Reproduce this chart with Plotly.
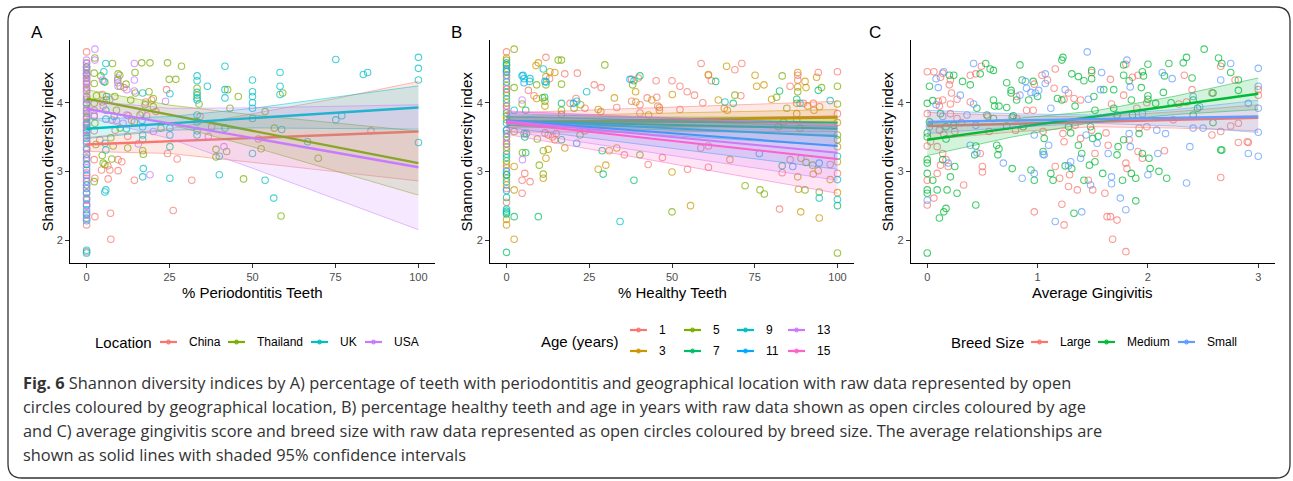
import plotly.graph_objects as go

W, H = 1293, 481

# ---------------- Panel A : % Periodontitis teeth by Location ----------------
loc_names = ["China", "Thailand", "UK", "USA"]
loc_colors = ["#F8766D", "#7CAE00", "#00BFC4", "#C77CFF"]

china_pts = [(2.5,2.34),(7.3,2.01),(7.2,2.39),(26.1,2.43),(31.7,2.87),(14.4,2.87),(6.5,2.89),(2.5,2.90),
             (2.3,3.17),(9.5,3.17),(10.6,3.14),(27.3,3.18),(24.4,3.26),(6.4,3.08),(7.0,3.02),(4.5,3.02),
             (9.5,3.01),(51.8,3.47),(85.7,3.59),(24.1,4.19),(4.7,4.01),(17.8,4.01),(13.6,3.74),(12.6,3.81),
             (18.1,3.81),(37.7,3.65),(34.2,3.80),(7.7,3.75),(8.6,3.60),(4.8,4.12),(12.4,3.51),(4.0,3.46),
             (2.3,3.59),(11.3,4.22),(19.6,4.04),(20.9,3.87)]
china_y0 = [4.74,4.42,4.21,4.05,3.92,3.80,3.66,3.52,3.44,3.31,3.20,3.10,2.98,2.90,2.80,2.69,2.58,2.50,
            2.36,2.22,1.83,3.58,3.72,4.30]
thai_pts = [(2.5,4.65),(2.3,4.43),(2.3,4.28),(4.3,4.39),(7.8,4.57),(9.5,4.42),(9.4,4.33),(10.1,4.24),
            (11.9,4.27),(14.6,4.44),(16.6,4.58),(19.1,4.58),(24.4,4.58),(28.6,4.53),(24.9,4.34),(26.9,4.34),
            (33.3,4.21),(33.3,4.11),(33.9,3.98),(42.5,4.19),(45.7,4.09),(59.1,4.14),(58.6,2.35),(47.3,2.89),
            (69.8,3.19),(52.6,3.33),(56.6,3.63),(53.8,3.87),(42.2,3.29),(39.0,3.32),(39.0,3.21),(17.1,3.25),
            (16.9,3.30),(12.4,3.34),(7.6,3.18),(5.5,3.10),(4.7,3.23),(2.3,2.85),(2.8,3.39),(7.3,3.49),
            (8.0,3.37),(10.1,3.63),(14.4,3.72),(16.1,3.82),(20.1,3.94),(22.4,3.63),(9.0,3.89),(2.3,3.80),
            (2.5,3.70),(2.3,3.99),(6.0,4.04),(8.5,4.09),(13.3,4.04),(14.7,4.14),(18.8,4.16),(20.1,4.06),
            (17.6,3.97),(43.2,3.92),(5.0,3.12),(5.5,4.30),(10.0,4.40),(3.0,4.10)]
thai_y0 = [4.58,4.52,4.47,4.42,4.35,4.28,4.18,4.08,3.98,3.88,3.78,3.68,3.60]
uk_pts = [(5.8,4.57),(5.2,4.45),(5.2,4.31),(6.0,4.09),(5.8,3.89),(5.8,3.76),(5.6,3.41),(5.8,3.31),
          (5.8,2.73),(5.5,2.70),(16.9,4.14),(17.1,3.04),(16.9,2.92),(16.9,3.53),(16.9,3.46),(16.9,3.65),
          (25.1,4.13),(25.1,3.63),(25.1,3.53),(25.1,3.36),(25.1,2.90),(33.3,4.39),(33.3,4.32),(33.3,4.15),
          (33.3,4.07),(33.3,4.04),(33.3,3.82),(33.3,3.72),(33.3,3.59),(33.3,3.53),(36.4,4.24),(41.7,4.53),
          (41.7,4.19),(41.7,4.07),(41.7,3.63),(40.0,2.95),(40.0,3.22),(50.0,4.33),(50.0,4.16),(50.0,4.09),
          (50.0,4.00),(50.0,3.92),(50.0,3.26),(50.0,3.77),(53.8,2.87),(56.4,2.61),(58.3,4.44),(58.3,4.24),
          (58.3,4.12),(58.8,3.61),(66.6,3.43),(75.1,4.63),(75.1,3.75),(76.9,3.81),(83.4,4.41),(84.7,4.44),
          (100,4.66),(100,4.50),(100,4.33),(100,3.42),(8.3,3.80),(12.0,3.62),(16.7,3.74)]
uk_y0 = [1.81,1.85,2.28,2.32,2.38,2.44,2.52,2.60,2.68,2.75,2.80,2.86,2.94,3.02,3.10,3.18,3.25,3.33,
         3.41,3.48,3.56,3.63,3.70,3.85,4.00,4.40,4.52]
usa_pts = [(2.5,4.78),(2.5,4.62),(14.4,4.57),(14.4,4.33),(9.4,4.29),(9.5,4.24),(12.1,4.19),(14.4,4.17),
           (4.8,4.33),(19.1,2.95),(36.7,3.51),(41.4,3.36),(9.0,3.74),(12.1,3.82),(15.6,3.40),(23.8,4.02),
           (20.1,3.58),(2.3,3.82),(2.3,3.89),(9.4,4.36),(7.0,4.05),(5.0,3.95),(11.0,3.70),(16.7,3.85)]
usa_y0 = [4.62,4.57,4.52,4.48,4.44,4.40,4.36,4.32,4.27,4.22,4.16,4.10,4.04,3.97,3.90,3.84,3.76,3.68,
          3.60,3.52,3.44,3.35,3.25,3.15,3.05,2.95,2.85,2.75,2.62,2.50,2.40,2.30]

fit_x_a = [0, 25, 50, 75, 100]
china_fit = [3.39, 3.44, 3.485, 3.53, 3.58]
china_lo = [3.29, 3.26, 3.13, 3.00, 2.86]
china_hi = [3.49, 3.62, 3.84, 4.06, 4.31]
thai_fit = [4.06, 3.825, 3.59, 3.355, 3.12]
thai_lo = [3.93, 3.685, 3.357, 3.009, 2.654]
thai_hi = [4.19, 3.965, 3.823, 3.701, 3.586]
uk_fit = [3.62, 3.6975, 3.775, 3.8525, 3.93]
uk_lo = [3.478, 3.5975, 3.633, 3.6285, 3.615]
uk_hi = [3.762, 3.7975, 3.917, 4.0765, 4.245]
usa_fit = [3.91, 3.6975, 3.485, 3.2725, 3.06]
usa_lo = [3.79, 3.4775, 3.045, 2.5985, 2.15]
usa_hi = [4.03, 3.9175, 3.925, 3.9465, 3.97]

# ---------------- Panel B : % Healthy teeth by Age ----------------
age_labels = ["1", "3", "5", "7", "9", "11", "13", "15"]
age_colors = ["#F8766D", "#CD9600", "#7CAE00", "#00BE67", "#00BFC4", "#00A9FF", "#C77CFF", "#FF61CC"]

age1_pts = [(6.6,4.18),(11.9,4.66),(17.6,4.42),(21.4,4.43),(26.5,4.26),(28.6,4.22),(37.8,4.34),(39.8,4.36),
            (45.2,4.32),(50,4.32),(52.4,4.24),(54.6,4.16),(58.8,4.57),(61.0,4.40),(61.9,4.32),(69.0,4.48),
            (71.1,4.57),(85.7,4.24),(88,4.33),(88,4.40),(94.2,4.44),(100,4.45),(8.3,4.10),(19.2,3.99),
            (21.0,4.06),(23.7,3.92),(33.3,3.93),(37.8,4.02),(40.3,3.97),(42.5,4.07),(45.4,4.08),(45.7,3.95),
            (46.2,3.89),(40.3,3.85),(52.4,3.90),(56.8,4.11),(59.3,4.00),(70.8,4.10),(89.7,3.99),(92.7,3.99),
            (100,3.84),(11.6,3.56),(13.9,3.50),(5.5,2.97),(4.7,2.87),(7.1,2.85),(4.7,2.68),(35.6,3.24),
            (42.8,3.10),(47.1,3.20),(54.7,3.03),(58.7,3.34),(61.0,3.37),(61.0,3.06),(82.5,2.45),(83.3,2.98),
            (85.7,3.17),(97.8,3.10),(100,2.97),(13.0,4.35),(15.0,3.55)]
age1_y0 = [4.74,4.55,4.20,3.90,3.60,3.30,3.05,2.75,2.55]
age3_pts = [(9.6,4.58),(8.9,4.54),(14.6,4.44),(13.1,4.45),(11.9,4.38),(66.5,4.53),(75.1,4.40),(75.6,4.24),
            (77.8,4.26),(88.0,4.44),(88,4.23),(90.2,4.31),(90.5,4.22),(93.7,4.37),(61.0,4.41),(9.1,4.06),
            (11.6,3.95),(16.6,3.83),(27.7,3.90),(28.5,3.87),(32.6,4.07),(39.1,4.01),(39.0,4.16),(46.2,3.93),
            (42.9,3.82),(43.9,4.04),(50.1,4.12),(64.0,4.04),(65.8,3.92),(66.7,3.89),(80.1,4.05),(87.7,3.99),
            (91.0,3.95),(92.9,3.89),(94.6,3.94),(100,3.71),(87.7,3.84),(87.7,3.75),(2.3,3.07),(2.3,2.73),
            (2.3,2.01),(11.1,2.90),(11.9,3.19),(12.6,3.32),(12.6,3.53),(14.6,3.46),(17.6,3.34),(23.7,3.59),
            (27.7,3.03),(30.0,3.09),(31.0,3.30),(33.3,3.34),(50,2.99),(55.6,2.50),(67.5,3.17),(88.0,2.92),
            (88.2,2.74),(88.9,2.41),(89.0,3.19),(92.7,2.96),(94.2,3.01),(94.5,2.32),(97.8,2.88),(100,2.69),
            (100,3.36),(100,3.14)]
age3_y0 = [4.65,4.50,4.35,4.10,3.95,3.75,3.45,3.10,2.90,2.80,2.30,2.22]
age5_pts = [(2.3,4.78),(15.6,4.62),(16.6,4.62),(9.1,4.26),(11.9,4.26),(16.6,4.27),(29.7,4.55),(38.1,4.26),
            (83.3,4.39),(88,4.16),(95.2,4.22),(100,4.24),(2.3,4.22),(4.7,3.98),(10.9,4.07),(11.6,4.02),
            (16.6,3.89),(20.4,3.92),(22.4,3.97),(69.0,4.11),(81.6,4.08),(84.7,3.92),(100,3.98),(88.7,3.63),
            (83.7,3.72),(82.2,3.65),(2.3,3.58),(4.8,3.27),(9.3,3.47),(9.9,3.09),(11.1,3.30),(11.1,2.96),
            (22.2,3.53),(40.3,3.24),(50,2.41),(72.1,2.79),(76.6,2.73),(77.9,2.67),(90.2,2.73),(90.5,3.13),
            (92.5,3.09),(94.5,2.70),(100,1.81),(100,3.46),(100,3.53)]
age5_y0 = [4.62,4.45,4.25,4.00,3.80,3.50,3.35,3.15,2.95]
age7_pts = [(38.5,4.32),(40.3,4.39),(63.2,4.31),(82.5,4.17),(94.2,4.18),(5.8,3.89),(16.6,3.99),(68.5,3.99),
            (87.7,4.05),(5.5,3.50),(5.8,3.27),(9.6,2.34),(2.3,2.34),(16.6,3.46),(28.9,3.30),(29.2,2.96),
            (38.5,2.87),(83.3,3.08),(100,2.50),(11.5,4.08),(6.0,3.55)]
age7_y0 = [4.55,4.40,4.15,3.85,3.55,3.25,2.95,2.62,2.42,2.38,1.82]
age9_pts = [(11.1,4.49),(4.7,4.39),(5.3,4.35),(7.1,4.35),(7.0,4.31),(24.2,4.16),(2.3,3.89),(21.2,4.02),
            (66.0,4.01),(88.7,3.99),(97.8,4.03),(5.3,3.55),(34.3,2.27),(94.5,2.61),(100,2.88),(100,2.59),
            (100,3.22),(12.0,4.30)]
age9_y0 = [4.58,4.45,4.05,3.70,3.40,3.20,2.85,2.45,2.40]
age11_pts = [(5.3,4.29),(11.6,4.31),(37.3,4.34),(20.2,3.99),(21.2,3.41),(76.4,3.26),(86.5,3.07),(94.5,3.12),
             (5.0,4.40)]
age11_y0 = [4.48,4.30,3.60,3.00,2.72]
age13_pts = [(4.7,4.04),(4.8,3.17)]
age13_y0 = [4.40,3.95,3.50]
age15_pts = []
age15_y0 = [4.20,3.40]

fit_x_b = [0, 100]
b_fit_0 = [3.71, 3.72, 3.73, 3.73, 3.74, 3.74, 3.73, 3.71]
b_fit_100 = [3.80, 3.78, 3.71, 3.62, 3.51, 3.37, 3.27, 3.18]
b_lo_0 = [3.57, 3.64, 3.67, 3.67, 3.67, 3.64, 3.59, 3.54]
b_hi_0 = [3.85, 3.80, 3.79, 3.79, 3.81, 3.84, 3.87, 3.88]
b_lo_100 = [3.58, 3.66, 3.63, 3.53, 3.37, 3.03, 2.87, 2.68]
b_hi_100 = [4.02, 3.90, 3.79, 3.71, 3.65, 3.71, 3.67, 3.68]

# ---------------- Panel C : Average gingivitis by Breed size ----------------
breed_names = ["Large", "Medium", "Small"]
breed_colors = ["#F8766D", "#00BA38", "#619CFF"]

large_pts = [(1.80,4.56),(0.49,4.53),(0.44,4.42),(0.39,4.40),(0.14,4.43),(0,4.45),(0.06,4.45),(0.12,4.37),
             (0.20,4.26),(0.21,4.33),(0.22,4.14),(0.14,4.04),(0.97,4.27),(1.04,4.40),(1.09,4.33),(1.16,4.49),
             (1.49,4.44),(1.66,4.34),(1.86,4.37),(1.91,4.40),(2.33,4.40),(2.58,4.14),(2.66,4.53),(2.79,4.33),
             (3,4.19),(0.10,4.02),(0.11,3.95),(0.21,3.98),(0.27,4.05),(0.21,3.84),(0.27,3.77),(0.39,4.01),
             (0.81,4.09),(0.90,3.89),(0.81,3.77),(0.96,3.89),(1.15,4.21),(1.24,4.05),(1.28,4.14),(1.33,4.06),
             (1.39,4.04),(1.67,3.98),(1.78,4.11),(1.90,3.92),(1.99,4.00),(2.28,3.98),(2.35,4.01),(2.40,4.19),
             (3,4.11),(0,3.84),(0.03,3.43),(0,3.37),(0.09,3.36),(0.11,3.60),(0.15,3.54),(0.25,3.58),
             (0.31,3.71),(0.55,3.80),(0.56,3.58),(0.80,3.60),(1.05,3.58),(1.23,3.55),(1.24,3.43),(1.34,3.67),
             (1.39,3.48),(1.49,3.60),(1.62,3.56),(1.64,3.38),(1.83,3.46),(1.92,3.63),(1.99,3.65),(2.23,3.75),
             (2.66,3.58),(2.75,3.66),(2.82,3.70),(2.90,3.43),(2.82,3.42),(2.58,3.53),(0,2.87),(0,2.51),
             (0.06,2.61),(0.09,2.97),(0.12,3.09),(0.14,3.26),(0.17,3.17),(0.19,3.07),(0.33,2.80),(0.50,3.07),
             (0.50,2.99),(0.48,3.26),(0.97,2.41),(1.16,3.07),(1.20,2.90),(1.22,2.52),(1.24,2.22),(1.28,2.78),
             (1.29,2.95),(1.36,2.73),(1.46,2.87),(1.50,2.73),(1.52,3.26),(1.61,2.68),(1.63,2.34),(1.66,2.34),
             (1.68,2.01),(1.72,2.29),(1.80,1.83),(1.80,3.12),(1.81,3.04),(1.91,3.29),(1.95,3.19),(2.15,3.30),
             (2.66,2.91),(2.91,3.42)]
medium_pts = [(2.51,4.78),(2.64,4.65),(2.67,4.57),(1.78,4.55),(1.22,4.62),(1.23,4.66),(0.53,4.57),(0.84,4.55),
              (0.57,4.49),(0.60,4.47),(0.48,4.42),(0.20,4.40),(0.24,4.40),(0.02,4.24),(0.32,4.31),(0.39,4.26),
              (0.72,4.29),(0.76,4.18),(0.86,4.33),(0.96,4.31),(1.31,4.42),(1.37,4.38),(1.42,4.32),(1.49,4.47),
              (1.49,4.35),(1.69,4.19),(1.78,4.40),(1.83,4.32),(1.95,4.45),(1.96,4.39),(1.94,4.22),(2.00,4.56),
              (2.15,4.39),(2.19,4.57),(2.32,4.58),(2.35,4.66),(2.40,4.36),(2.59,4.14),(2.82,4.33),(2.75,4.44),
              (0,3.99),(0.05,4.03),(0.12,3.84),(0.45,3.92),(0.60,4.04),(0.61,3.95),(0.65,3.95),(0.72,3.93),
              (0.76,4.14),(0.81,4.04),(0.92,4.04),(1.00,4.09),(0.78,3.81),(1.18,4.06),(1.22,4.04),(1.34,3.95),
              (1.51,4.09),(1.52,3.89),(1.60,4.19),(1.69,3.92),(1.72,3.82),(1.85,4.04),(1.86,3.82),(2.00,4.10),
              (2.00,4.05),(2.07,3.99),(2.14,4.15),(2.21,4.00),(2.41,4.04),(2.45,3.92),(2.41,3.82),(2.82,4.18),
              (0.02,3.72),(0,3.56),(0,3.50),(0.17,3.65),(0.24,3.67),(0.17,3.47),(0.44,3.37),(0.43,3.24),
              (0.54,3.82),(0.60,3.77),(0.72,3.66),(0.77,3.79),(0.87,3.65),(1.06,3.48),(1.05,3.29),(1.28,3.65),
              (1.30,3.56),(1.37,3.38),(1.40,3.26),(1.48,3.65),(1.50,3.48),(1.55,3.51),(1.73,3.36),(1.78,3.46),
              (1.92,3.55),(1.95,3.26),(2.59,3.71),(2.67,3.31),(0,3.17),(0,3.12),(0,2.97),(0,2.73),(0,2.68),
              (0.05,2.87),(0.14,3.17),(0.21,2.92),(0.09,2.73),(0.18,2.73),(0.17,2.46),(0.15,2.41),(0.11,2.32),
              (0.27,2.68),(0.25,3.07),(0.44,2.51),(0.63,3.38),(0.65,3.33),(0.64,3.24),(0.77,3.04),(0.94,3.02),
              (0.97,2.87),(1.12,2.97),(1.14,2.87),(1.25,3.08),(1.31,3.04),(1.33,2.39),(1.42,2.87),(1.47,3.09),
              (1.52,3.14),(1.59,2.97),(1.72,3.24),(1.77,2.87),(1.85,2.97),(1.89,2.57),(1.89,2.90),(2.01,3.19),
              (2.02,3.04),(2.10,3.00),(2.17,2.90),(2.66,3.31),(0,1.81)]
small_pts = [(1.45,4.74),(2.75,4.57),(1.81,4.62),(0.42,4.57),(0.15,4.45),(0.08,4.35),(0.10,4.22),(0.30,4.11),
             (0.89,4.31),(0.90,4.21),(1.07,4.42),(1.58,4.44),(1.84,4.23),(2.13,4.44),(2.22,4.35),(2.66,4.33),
             (3,4.50),(3,4.24),(0.08,3.97),(0.14,3.80),(0.36,3.82),(0.42,3.98),(0.84,4.11),(0.94,4.15),
             (0.98,4.14),(1.01,4.18),(1.12,3.92),(1.07,4.28),(1.25,4.19),(1.46,4.05),(1.57,4.19),(1.95,3.84),
             (2.41,4.09),(2.47,3.94),(2.91,3.99),(3,3.92),(0.02,3.65),(0.44,3.67),(0.39,3.38),(0.45,3.27),
             (0.97,3.53),(1.05,3.25),(1.10,3.38),(1.44,3.53),(1.54,3.41),(1.64,3.26),(1.83,3.55),(1.84,3.36),
             (2.08,3.60),(2.16,3.55),(2.41,3.63),(2.50,3.63),(3,3.57),(2.38,3.36),(0,2.58),(0.19,3.12),
             (0.69,3.12),(0.86,2.90),(0.97,2.97),(1.06,3.24),(1.16,2.27),(1.28,3.08),(1.30,3.14),(1.39,3.19),
             (1.40,2.41),(1.48,2.80),(1.67,2.92),(1.67,2.82),(1.75,2.61),(1.80,2.44),(2.00,2.95),(2.09,3.26),
             (2.35,2.83),(2.91,3.26),(3,3.22)]

fit_x_c = [0, 0.75, 1.5, 2.25, 3]
large_fit = [3.66, 3.69, 3.72, 3.75, 3.78]
large_lo = [3.46, 3.57, 3.65, 3.63, 3.59]
large_hi = [3.86, 3.81, 3.79, 3.87, 3.97]
medium_fit = [3.46, 3.6275, 3.795, 3.9625, 4.13]
medium_lo = [3.23, 3.4935, 3.715, 3.8285, 3.90]
medium_hi = [3.69, 3.7615, 3.875, 4.0965, 4.36]
small_fit = [3.72, 3.74, 3.76, 3.78, 3.80]
small_lo = [3.55, 3.64, 3.70, 3.66, 3.565]
small_hi = [3.89, 3.84, 3.82, 3.90, 4.035]

caption_lines = [
    "<b>Fig. 6</b> Shannon diversity indices by A) percentage of teeth with periodontitis and geographical location with raw data represented by open",
    "circles coloured by geographical location, B) percentage healthy teeth and age in years with raw data shown as open circles coloured by age",
    "and C) average gingivitis score and breed size with raw data represented as open circles coloured by breed size. The average relationships are",
    "shown as solid lines with shaded 95% confidence intervals",
]

# ---------------- helpers ----------------
FONT = "Liberation Sans, Arial, sans-serif"


def rgba(hexc, a):
    h = hexc.lstrip("#")
    return "rgba(%d,%d,%d,%.3f)" % (int(h[0:2], 16), int(h[2:4], 16), int(h[4:6], 16), a)


def PX(x):
    return x / W


def PY(y):
    return 1 - y / H


fig = go.Figure()


def add_points(pts, y0, color, xa, ya):
    xs = [p[0] for p in pts] + [0] * len(y0)
    ys = [p[1] for p in pts] + list(y0)
    if not xs:
        return
    fig.add_trace(go.Scatter(
        x=xs, y=ys, mode="markers", xaxis=xa, yaxis=ya, showlegend=False, hoverinfo="skip",
        marker=dict(symbol="circle-open", size=6.5, color=rgba(color, 0.72), line=dict(width=1.1))))


def add_fit(fx, fit, lo, hi, color, xa, ya, lw=2.4):
    fig.add_trace(go.Scatter(
        x=list(fx) + list(fx)[::-1], y=list(hi) + list(lo)[::-1], mode="lines", fill="toself",
        fillcolor=rgba(color, 0.17), line=dict(width=0), xaxis=xa, yaxis=ya,
        showlegend=False, hoverinfo="skip"))
    for edge in (lo, hi):
        fig.add_trace(go.Scatter(x=fx, y=edge, mode="lines", xaxis=xa, yaxis=ya,
                                 line=dict(color=rgba(color, 0.55), width=0.9),
                                 showlegend=False, hoverinfo="skip"))
    fig.add_trace(go.Scatter(x=fx, y=fit, mode="lines", xaxis=xa, yaxis=ya,
                             line=dict(color=color, width=lw), showlegend=False, hoverinfo="skip"))


# Panel A
a_pts = [china_pts, thai_pts, uk_pts, usa_pts]
a_y0 = [china_y0, thai_y0, uk_y0, usa_y0]
a_fit = [china_fit, thai_fit, uk_fit, usa_fit]
a_lo = [china_lo, thai_lo, uk_lo, usa_lo]
a_hi = [china_hi, thai_hi, uk_hi, usa_hi]
for i, c in enumerate(loc_colors):
    add_points(a_pts[i], a_y0[i], c, "x", "y")
for i, c in enumerate(loc_colors):
    add_fit(fit_x_a, a_fit[i], a_lo[i], a_hi[i], c, "x", "y")

# Panel B
b_pts = [age1_pts, age3_pts, age5_pts, age7_pts, age9_pts, age11_pts, age13_pts, age15_pts]
b_y0 = [age1_y0, age3_y0, age5_y0, age7_y0, age9_y0, age11_y0, age13_y0, age15_y0]
for i, c in enumerate(age_colors):
    add_points(b_pts[i], b_y0[i], c, "x2", "y2")
for i, c in enumerate(age_colors):
    add_fit(fit_x_b, [b_fit_0[i], b_fit_100[i]], [b_lo_0[i], b_lo_100[i]],
            [b_hi_0[i], b_hi_100[i]], c, "x2", "y2", lw=2.0)

# Panel C
c_pts = [large_pts, medium_pts, small_pts]
c_fit = [large_fit, medium_fit, small_fit]
c_lo = [large_lo, medium_lo, small_lo]
c_hi = [large_hi, medium_hi, small_hi]
for i, c in enumerate(breed_colors):
    add_points(c_pts[i], [], c, "x3", "y3")
for i, c in enumerate(breed_colors):
    add_fit(fit_x_c, c_fit[i], c_lo[i], c_hi[i], c, "x3", "y3")

# ---------------- axes ----------------
top, bottom = 40, 263
ydom = [PY(bottom), PY(top)]
yrange = [1.665, 4.913]
axis_common = dict(showline=True, linecolor="black", linewidth=1, ticks="outside", ticklen=4,
                   tickcolor="#333333", tickwidth=1, showgrid=False, zeroline=False,
                   tickfont=dict(family=FONT, size=11, color="#4D4D4D"))
panels = [
    ("xaxis", "yaxis", "y", "x", [70, 435], [-5, 105], [0, 25, 50, 75, 100]),
    ("xaxis2", "yaxis2", "y2", "x2", [490, 854], [-5, 105], [0, 25, 50, 75, 100]),
    ("xaxis3", "yaxis3", "y3", "x3", [910.7, 1274.8], [-0.15, 3.15], [0, 1, 2, 3]),
]
lay = {}
for xn, yn, ya, xa, dom, rng, tv in panels:
    lay[xn] = dict(axis_common, domain=[PX(dom[0]), PX(dom[1])], range=rng, tickvals=tv, anchor=ya)
    lay[yn] = dict(axis_common, domain=ydom, range=yrange, tickvals=[2, 3, 4], anchor=xa)

annotations = []
shapes = []


def text(x, y, s, size, color="black", xanchor="left", angle=0, family=FONT):
    annotations.append(dict(x=PX(x), y=PY(y), xref="paper", yref="paper", text=s, showarrow=False,
                            xanchor=xanchor, yanchor="middle", textangle=angle,
                            font=dict(family=family, size=size, color=color)))


# panel tags
for lab, x in (("A", 29), ("B", 449), ("C", 867)):
    text(x, 32, lab, 17)
# axis titles
for x in (47, 466, 887):
    text(x, 151.5, "Shannon diversity index", 15, xanchor="center", angle=-90)
text(252.5, 292, "% Periodontitis Teeth", 15, xanchor="center")
text(672, 292, "% Healthy Teeth", 15, xanchor="center")
text(1092.7, 292, "Average Gingivitis", 15, xanchor="center")


def key(x_text, y, color):
    x0, x1 = x_text - 27, x_text - 10
    shapes.append(dict(type="line", xref="paper", yref="paper", x0=PX(x0), x1=PX(x1), y0=PY(y), y1=PY(y),
                       line=dict(color=color, width=2.2)))
    xc = (x0 + x1) / 2
    shapes.append(dict(type="circle", xref="paper", yref="paper", x0=PX(xc - 2.0), x1=PX(xc + 2.0),
                       y0=PY(y + 2.0), y1=PY(y - 2.0), line=dict(color=color, width=1.0),
                       fillcolor=rgba(color, 0.6)))


# Legend A
text(93, 342, "Location", 15)
for name, col, xt in zip(loc_names, loc_colors, [187, 255, 338, 392]):
    key(xt, 342, col)
    text(xt, 342, name, 12)
# Legend B
text(539, 341, "Age (years)", 15)
b_text_x = [657, 657, 711, 711, 764, 764, 815, 815]
b_text_y = [330, 351, 330, 351, 330, 351, 330, 351]
for lab, col, xt, yt in zip(age_labels, age_colors, b_text_x, b_text_y):
    key(xt, yt, col)
    text(xt, yt, lab, 12)
# Legend C
text(949, 342, "Breed Size", 15)
for name, col, xt in zip(breed_names, breed_colors, [1058, 1125, 1205]):
    key(xt, 342, col)
    text(xt, 342, name, 12)

# caption
for i, line in enumerate(caption_lines):
    text(21, 382 + i * 24.3, line, 16.4, color="#333333", family="Open Sans, sans-serif")

# rounded border
bx0, bx1, by0, by1, r = 8, 1290, 7, 478, 14
x0, x1 = PX(bx0), PX(bx1)
yT, yB = PY(by0), PY(by1)
rx, ry = r / W, r / H
path = (f"M {x0+rx},{yT} L {x1-rx},{yT} Q {x1},{yT} {x1},{yT-ry} L {x1},{yB+ry} Q {x1},{yB} {x1-rx},{yB} "
        f"L {x0+rx},{yB} Q {x0},{yB} {x0},{yB+ry} L {x0},{yT-ry} Q {x0},{yT} {x0+rx},{yT} Z")
shapes.append(dict(type="path", xref="paper", yref="paper", path=path, line=dict(color="#333333", width=1.3)))

fig.update_layout(width=W, height=H, margin=dict(l=0, r=0, t=0, b=0), paper_bgcolor="white",
                  plot_bgcolor="white", showlegend=False, annotations=annotations, shapes=shapes, **lay)

fig.write_html("out.html", config={"displayModeBar": False},
               post_script="document.body.style.margin='0';document.body.style.overflow='hidden';")
